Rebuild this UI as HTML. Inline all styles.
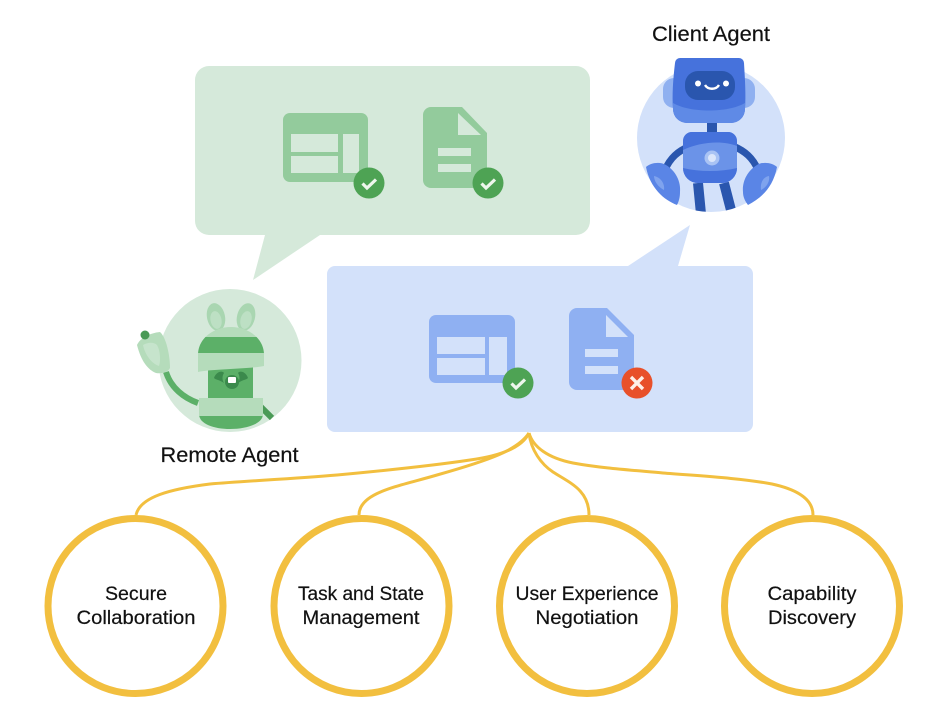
<!DOCTYPE html>
<html>
<head>
<meta charset="utf-8">
<style>
html,body{margin:0;padding:0;background:#fff;}
svg{display:block;}
text{font-family:"Liberation Sans",sans-serif;fill:#111;stroke:#111;stroke-width:.2;}
</style>
</head>
<body>
<svg width="949" height="720" viewBox="0 0 949 720" xmlns="http://www.w3.org/2000/svg">
<defs>
  <clipPath id="cc"><circle cx="711" cy="138" r="74"/></clipPath>
  <clipPath id="hatband"><rect x="190" y="337" width="80" height="18"/></clipPath>
</defs>
<rect width="949" height="720" fill="#fff"/>

<!-- Green bubble -->
<path d="M209 66H576a14 14 0 0 1 14 14V221a14 14 0 0 1 -14 14H320L253 280L265 235H209a14 14 0 0 1 -14 -14V80a14 14 0 0 1 14 -14z" fill="#d5e9da"/>
<rect x="283" y="113" width="85" height="69" rx="7" fill="#93cb9c"/>
<rect x="291" y="134" width="47" height="18" fill="#d5e9da"/>
<rect x="291" y="156" width="47" height="17" fill="#d5e9da"/>
<rect x="343" y="134" width="16" height="39" fill="#d5e9da"/>
<path d="M431 107H462L487 133V180a8 8 0 0 1 -8 8H431a8 8 0 0 1 -8 -8V115a8 8 0 0 1 8 -8z" fill="#93cb9c"/>
<path d="M458 113V135H481z" fill="#d5e9da"/>
<rect x="438" y="148" width="33" height="8" fill="#d5e9da"/>
<rect x="438" y="164" width="33" height="8" fill="#d5e9da"/>
<circle cx="369" cy="183" r="15.500" fill="#4ea354"/>
<path d="M362.500 183.500L367 188L376 179.500" fill="none" stroke="#eef6ec" stroke-width="3.200"/>
<circle cx="488" cy="183" r="15.500" fill="#4ea354"/>
<path d="M481.500 183.500L486 188L495 179.500" fill="none" stroke="#eef6ec" stroke-width="3.200"/>

<!-- Blue box -->
<path d="M335 266H628L690 225L678 266H745a8 8 0 0 1 8 8V424a8 8 0 0 1 -8 8H335a8 8 0 0 1 -8 -8V274a8 8 0 0 1 8 -8z" fill="#d3e1fa"/>
<rect x="429" y="315" width="86" height="68" rx="7" fill="#8fb0f2"/>
<rect x="437" y="337" width="48" height="17" fill="#d3e1fa"/>
<rect x="437" y="358" width="48" height="17" fill="#d3e1fa"/>
<rect x="489" y="337" width="18" height="38" fill="#d3e1fa"/>
<path d="M577 308H607L634 335V382a8 8 0 0 1 -8 8H577a8 8 0 0 1 -8 -8V316a8 8 0 0 1 8 -8z" fill="#8fb0f2"/>
<path d="M606 315V337H628z" fill="#d3e1fa"/>
<rect x="585" y="349" width="33" height="8" fill="#d3e1fa"/>
<rect x="585" y="366" width="33" height="8" fill="#d3e1fa"/>
<circle cx="518" cy="383" r="15.500" fill="#4ea354"/>
<path d="M511.500 383.500L516 388L525 379.500" fill="none" stroke="#eef6ec" stroke-width="3.200"/>
<circle cx="637" cy="383" r="15.500" fill="#e8502a"/>
<path d="M631 377L643 389M643 377L631 389" fill="none" stroke="#fdf0e8" stroke-width="3.400"/>

<!-- Client robot -->
<circle cx="711" cy="138" r="74" fill="#d3e1fa"/>
<rect x="663" y="78" width="24" height="30" rx="11" fill="#8fb0f0"/>
<rect x="731" y="78" width="24" height="30" rx="11" fill="#8fb0f0"/>
<g clip-path="url(#cc)">
  <path d="M698 183L701 214M724 183L732 214" stroke="#2a56ae" stroke-width="10" fill="none"/>
</g>
<path d="M665 170C670 158 678 151 690 146M758 170C753 158 745 151 733 146" stroke="#2a56ae" stroke-width="7" fill="none"/>
<rect x="707" y="122" width="10" height="12" fill="#2a56ae"/>
<path d="M680 58H739a5 5 0 0 1 5 5C745 80 746 95 745 109a14 14 0 0 1 -14 14H687a14 14 0 0 1 -14 -14C672 95 673 80 675 63a5 5 0 0 1 5 -5z" fill="#4672dc"/>
<path d="M673 103C690 113 728 113 745 103L745 109a14 14 0 0 1 -14 14H687a14 14 0 0 1 -14 -14z" fill="#5f8ae6"/>
<rect x="685" y="71" width="50" height="29" rx="13" fill="#2a56ae"/>
<circle cx="698" cy="83.500" r="3" fill="#fff"/>
<circle cx="726" cy="83.500" r="3" fill="#fff"/>
<path d="M705 85C708 90 716 90 719 85" stroke="#fff" stroke-width="2.400" fill="none"/>
<path d="M692 132H728a9 9 0 0 1 9 9V168a15 15 0 0 1 -15 15H698a15 15 0 0 1 -15 -15V141a9 9 0 0 1 9 -9z" fill="#6b93e8"/>
<path d="M692 132H728a9 9 0 0 1 9 9V146C722 140 700 142 683 150V141a9 9 0 0 1 9 -9z" fill="#4672dc"/>
<path d="M683 168C700 172 720 172 737 168V168a15 15 0 0 1 -15 15H698a15 15 0 0 1 -15 -15z" fill="#4672dc"/>
<circle cx="712" cy="158" r="7.500" fill="#a9c3f4"/>
<circle cx="712" cy="158" r="4" fill="#dbe6fb"/>
<path d="M646 167C650 163 660 161 666 165C676 171 681 182 680 192C680 197 679 201 677 205C664 200 650 188 646 167z" fill="#5a85e6"/>
<path d="M654 176C660 177 665 183 664 190C658 187 654 181 654 176z" fill="#7fa3ee"/>
<path d="M777 167C773 163 763 161 757 165C747 171 742 182 743 192C743 197 745 201 748 205C761 198 773 188 777 167z" fill="#5a85e6"/>
<path d="M769 176C763 177 760 183 761 190C767 187 770 181 769 176z" fill="#7fa3ee"/>
<text x="711" y="41" text-anchor="middle" font-size="21" textLength="118" lengthAdjust="spacingAndGlyphs">Client Agent</text>

<!-- Remote agent -->
<circle cx="230" cy="360.500" r="71.500" fill="#d5e9da"/>
<path d="M260 406L272 418" stroke="#4a9a56" stroke-width="6" fill="none"/>
<ellipse cx="216" cy="317" rx="9" ry="14" transform="rotate(-12 216 317)" fill="#a9d6b1"/>
<ellipse cx="216" cy="320" rx="5.500" ry="9" transform="rotate(-12 216 320)" fill="#bde0c4"/>
<ellipse cx="246" cy="317" rx="9" ry="14" transform="rotate(14 246 317)" fill="#a9d6b1"/>
<ellipse cx="246" cy="320" rx="5.500" ry="9" transform="rotate(14 246 320)" fill="#bde0c4"/>
<path d="M166 372C171 388 184 398 198 403" stroke="#5cb068" stroke-width="6" fill="none"/>
<rect x="208" y="365" width="45" height="35" fill="#5cb068"/>
<path id="d" d="M198 355C198 338 214 327 231 327C248 327 264 338 264 355z" fill="#b5dcbb"/>
<path d="M198 355C198 338 214 327 231 327C248 327 264 338 264 355z" fill="#5cb068" clip-path="url(#hatband)"/>
<path d="M198 353H264L264 366C250 369 212 369 198 372z" fill="#b5dcbb"/>
<path d="M214 378C216 372 222 370 224 373C222 376 222 380 224 383C220 380 216 380 214 378z" fill="#3b8a4c"/>
<path d="M248 378C246 372 240 370 238 373C240 376 240 380 238 383C242 380 246 380 248 378z" fill="#3b8a4c"/>
<circle cx="232" cy="382" r="7" fill="#3b8a4c"/>
<rect x="228" y="377" width="8" height="6" rx="1" fill="#fff"/>
<path d="M199 398H263V414C263 424 246 429 230 429C214 429 199 424 199 414z" fill="#5cb068"/>
<path d="M199 398H263V416H199z" fill="#b5dcbb"/>
<path d="M137 345C140 338 150 333 160 332C166 337 170 355 170 368C168 372 162 374 156 373C148 370 141 361 137 345z" fill="#b5dcbb"/>
<path d="M143 345C148 342 154 342 157 345C160 350 161 360 159 366C152 364 145 355 143 345z" fill="#c6e4cc"/>
<circle cx="145" cy="335" r="4.500" fill="#4a9a56"/>
<text x="229.500" y="462" text-anchor="middle" font-size="21" textLength="138" lengthAdjust="spacingAndGlyphs">Remote Agent</text>

<!-- Connectors -->
<g fill="none" stroke="#f2bf3f" stroke-width="3">
  <path d="M529 433C522 448 500 456 470 460C430 466 380 471 337 475C290 479 245 481 210 484C170 489 140 497 136 515"/>
  <path d="M529 433C518 450 490 460 437 475C400 486 359 492 359 515"/>
  <path d="M529 433C531 450 541 464 553 472C570 483 589 490 589 515"/>
  <path d="M529 433C533 447 548 458 573 463C600 468 630 470 663 473C700 476 740 478 772 484C795 489 813 498 813 515"/>
</g>

<!-- Circles -->
<g fill="#fff" stroke="#f2bf3f" stroke-width="7">
  <circle cx="135.500" cy="606" r="87.500"/>
  <circle cx="361.500" cy="606" r="87.500"/>
  <circle cx="587" cy="606" r="87.500"/>
  <circle cx="812" cy="606" r="87.500"/>
</g>
<g font-size="19" text-anchor="middle">
  <text x="136" y="600" textLength="62" lengthAdjust="spacingAndGlyphs">Secure</text>
  <text x="136" y="624" textLength="119" lengthAdjust="spacingAndGlyphs">Collaboration</text>
  <text x="361" y="600" textLength="126" lengthAdjust="spacingAndGlyphs">Task and State</text>
  <text x="361" y="624" textLength="117" lengthAdjust="spacingAndGlyphs">Management</text>
  <text x="587" y="600" textLength="143" lengthAdjust="spacingAndGlyphs">User Experience</text>
  <text x="587" y="624" textLength="103" lengthAdjust="spacingAndGlyphs">Negotiation</text>
  <text x="812" y="600" textLength="89" lengthAdjust="spacingAndGlyphs">Capability</text>
  <text x="812" y="624" textLength="88" lengthAdjust="spacingAndGlyphs">Discovery</text>
</g>
</svg>
</body>
</html>
